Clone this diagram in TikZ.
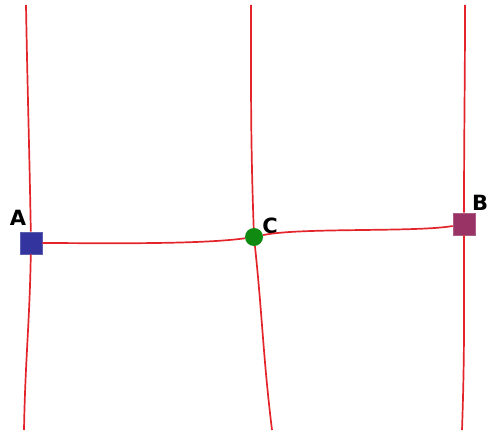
\documentclass[tikz,border=0pt]{standalone}
\usepackage{fontspec}
\newfontfamily\lblfont{DejaVu Sans}[BoldFont={DejaVu Sans Bold}]
\usepackage{xcolor}
\definecolor{wirered}{HTML}{E3242B}
\definecolor{sqblue}{HTML}{34349E}
\definecolor{sqplum}{HTML}{993366}
\definecolor{dotgreen}{HTML}{118A11}

\tikzset{
  wire/.style={draw=wirered,line width=1.7pt},
  pin/.style={draw=#1!80!white,fill=#1,minimum size=22pt,inner sep=0pt,line width=0.6pt},
  hub/.style={circle,fill=dotgreen,minimum size=18pt,inner sep=0pt},
  tag/.style={font=\lblfont\bfseries\fontsize{21}{21}\selectfont,inner sep=0pt}
}

\begin{document}
\begin{tikzpicture}[x=1pt,y=1pt]
\useasboundingbox (0,0) rectangle (489,432);
% free ends of the three long wires
\coordinate (LT) at (26,427);
\coordinate (LB) at (24,2);
\coordinate (MT) at (251,427);
\coordinate (MB) at (272,2);
\coordinate (RT) at (465,427);
\coordinate (RB) at (462,2);
% the three points
\node[pin=sqblue] (A) at (31,189) {};
\node[hub] (C) at (254,195) {};
\node[pin=sqplum] (B) at (464,208) {};
\node[tag] (labA) at (18,214) {A};
\node[tag] (labC) at (270,206) {C};
\node[tag] (labB) at (480,229) {B};
% wires
\draw[wire] (LT) to[out=-89,in=91] (A);
\draw[wire] (A) to[out=-91,in=89] (LB);
\draw[wire] (MT) to[out=-90,in=92] (C);
\draw[wire] (C) to[out=-84,in=97] (MB);
\draw[wire] (RT) to[out=-90,in=90] (B);
\draw[wire] (B) to[out=-90,in=88] (RB);
\draw[wire] (A) to[out=0,in=188,looseness=0.6] (C);
\draw[wire] (C) to[out=12,in=190,looseness=0.5] (B);
\end{tikzpicture}
\end{document}
